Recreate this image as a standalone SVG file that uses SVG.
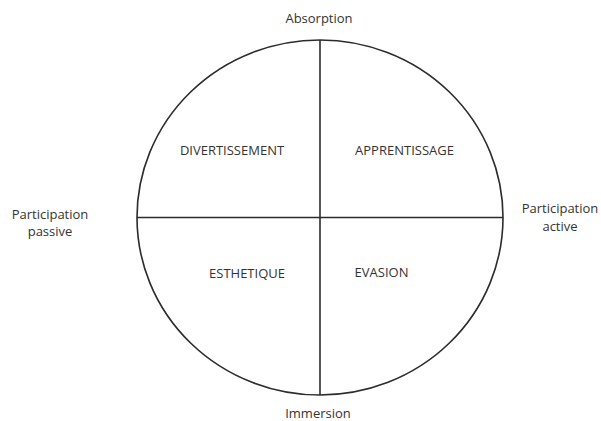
<svg xmlns="http://www.w3.org/2000/svg" width="601" height="421" viewBox="0 0 601 421">
<style>
text{font-family:"Open Sans","Liberation Sans",sans-serif;font-size:13px;fill:#333333;text-anchor:middle}
.ln{stroke:#2b2b2b;stroke-width:1.6;fill:none}
</style>
<rect width="601" height="421" fill="#ffffff"/>
<g id="circle"><ellipse class="ln" cx="320" cy="217.5" rx="183" ry="177.5"/></g>
<g id="connectors">
<line class="ln" x1="320" y1="40" x2="320" y2="395"/>
<line class="ln" x1="137" y1="217.5" x2="503" y2="217.5"/>
</g>
<g id="absorption"><text x="319" y="23">Absorption</text></g>
<g id="immersion"><text x="318" y="418">Immersion</text></g>
<g id="passive"><text x="50" y="219">Participation</text><text x="50" y="236">passive</text></g>
<g id="active"><text x="560" y="213">Participation</text><text x="560" y="231">active</text></g>
<g id="divertissement"><text x="232" y="155">DIVERTISSEMENT</text></g>
<g id="apprentissage"><text x="404.5" y="155">APPRENTISSAGE</text></g>
<g id="esthetique"><text x="247" y="278">ESTHETIQUE</text></g>
<g id="evasion"><text x="381.5" y="277">EVASION</text></g>
</svg>
